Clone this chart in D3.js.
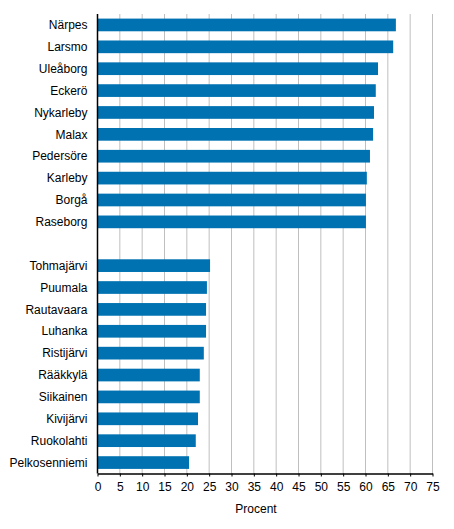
<!DOCTYPE html>
<html>
<head>
<meta charset="utf-8">
<script src="https://cdnjs.cloudflare.com/ajax/libs/d3/7.8.5/d3.min.js"></script>
<style>
  body { margin: 0; background: #fff; }
  svg text { font-family: "Liberation Sans", Arial, sans-serif; font-size: 12px; fill: #000; }
</style>
</head>
<body>
<svg id="chart" width="454" height="529"></svg>
<script>
// municipalities, top group then bottom group (blank slot between)
var topNames = ['Närpes', 'Larsmo', 'Uleåborg', 'Eckerö', 'Nykarleby', 'Malax', 'Pedersöre', 'Karleby', 'Borgå', 'Raseborg'];
var topValues = [66.8, 66.2, 62.8, 62.3, 61.9, 61.7, 61.0, 60.3, 60.1, 60.1];
var bottomNames = ['Tohmajärvi', 'Puumala', 'Rautavaara', 'Luhanka', 'Ristijärvi', 'Rääkkylä', 'Siikainen', 'Kivijärvi', 'Ruokolahti', 'Pelkosenniemi'];
var bottomValues = [25.2, 24.5, 24.3, 24.3, 23.8, 22.9, 22.9, 22.5, 22.0, 20.5];
var xTicks = [0, 5, 10, 15, 20, 25, 30, 35, 40, 45, 50, 55, 60, 65, 70, 75];
var axisTitle = 'Procent';

var rows = [];
topNames.forEach(function(n, i) { rows.push({name: n, value: topValues[i]}); });
rows.push({name: ' ', value: null});
bottomNames.forEach(function(n, i) { rows.push({name: n, value: bottomValues[i]}); });

var margin = {left: 97.5, right: 21.5, top: 14, bottom: 55.5};
var width = 454 - margin.left - margin.right;
var height = 529 - margin.top - margin.bottom;

var svg = d3.select('#chart');
var g = svg.append('g').attr('transform', 'translate(' + margin.left + ',' + margin.top + ')');

var x = d3.scaleLinear().domain([0, 75]).range([0, width]);
var y = d3.scaleBand()
  .domain(rows.map(function(d) { return d.name; }))
  .range([0, height])
  .paddingInner(0.42)
  .paddingOuter(0.21);

// gridlines
g.selectAll('line.grid')
  .data(xTicks.slice(1))
  .enter().append('line')
  .attr('class', 'grid')
  .attr('x1', function(d) { return x(d); })
  .attr('x2', function(d) { return x(d); })
  .attr('y1', 0)
  .attr('y2', height)
  .attr('stroke', '#bfbfbf')
  .attr('stroke-width', 1);

// bars
g.selectAll('rect.bar')
  .data(rows.filter(function(d) { return d.value !== null; }))
  .enter().append('rect')
  .attr('class', 'bar')
  .attr('x', 0)
  .attr('y', function(d) { return y(d.name); })
  .attr('width', function(d) { return x(d.value); })
  .attr('height', y.bandwidth())
  .attr('fill', '#0072b1');

// category labels
g.selectAll('text.cat')
  .data(rows)
  .enter().append('text')
  .attr('class', 'cat')
  .attr('x', -10)
  .attr('y', function(d) { return y(d.name) + y.bandwidth() / 2; })
  .attr('dy', '0.35em')
  .attr('text-anchor', 'end')
  .text(function(d) { return d.name; });

// x axis
var xAxis = g.append('g')
  .attr('transform', 'translate(0,' + height + ')')
  .call(d3.axisBottom(x).tickValues(xTicks).tickSize(3).tickPadding(6).tickSizeOuter(0));
xAxis.select('.domain').attr('stroke', '#000').attr('stroke-width', 1.5);
xAxis.selectAll('.tick line').attr('stroke', '#000');
xAxis.selectAll('.tick text').style('font-size', '12px');

// left axis line
g.append('line')
  .attr('x1', 0).attr('x2', 0)
  .attr('y1', 0).attr('y2', height)
  .attr('stroke', '#000')
  .attr('stroke-width', 1.5);

// axis title
svg.append('text')
  .attr('x', 256)
  .attr('y', 513)
  .attr('text-anchor', 'middle')
  .text(axisTitle);
</script>
</body>
</html>
